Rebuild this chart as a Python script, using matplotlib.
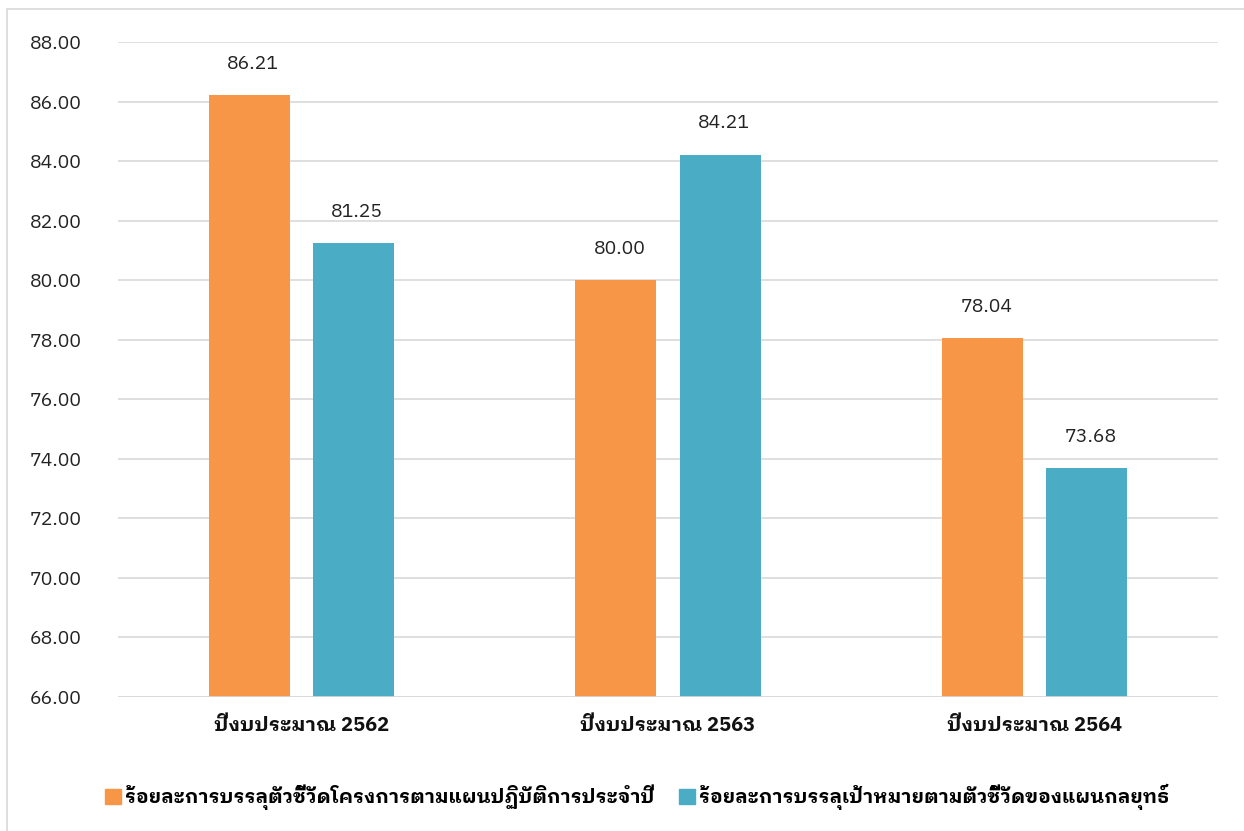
import matplotlib
matplotlib.use('Agg')
import matplotlib.pyplot as plt
import numpy as np
from matplotlib.patches import Rectangle, Patch

plt.rcParams['font.family'] = ['IBM Plex Sans Thai Looped', 'Noto Sans Thai Looped', 'DejaVu Sans']

# data
years = ['ปีงบประมาณ 2562', 'ปีงบประมาณ 2563', 'ปีงบประมาณ 2564']
project_pct = [86.21, 80.00, 78.04]
strategy_pct = [81.25, 84.21, 73.68]
series_names = ['ร้อยละการบรรลุตัวชี้วัดโครงการตามแผนปฏิบัติการประจำปี',
                'ร้อยละการบรรลุเป้าหมายตามตัวชี้วัดของแผนกลยุทธ์']
yticks = np.arange(66, 89, 2)

orange = '#F79646'
teal = '#4BACC6'

fig = plt.figure(figsize=(12.44, 8.31), dpi=100)
ax = fig.add_axes([0.0949, 0.1613, 0.8842, 0.7882])

# outer chart border
fig.patches.append(Rectangle((7 / 1244, -0.1), 1.2, (831 - 9) / 831 + 0.1,
                             transform=fig.transFigure, fill=False,
                             edgecolor='#D9D9D9', linewidth=1.2))

x = np.arange(len(years))
w = 0.221
off = 0.142
ax.bar(x - off, [v - 66 for v in project_pct], w, bottom=66, color=orange, zorder=3)
ax.bar(x + off, [v - 66 for v in strategy_pct], w, bottom=66, color=teal, zorder=3)

for xs, vals in ((x - off, project_pct), (x + off, strategy_pct)):
    for xi, v in zip(xs, vals):
        ax.text(xi + 0.01, v + 0.75, f'{v:.2f}', ha='center', va='bottom', fontsize=14, color='#222222')

ax.set_xlim(-0.5, 2.5)
ax.set_ylim(66, 88)
ax.set_yticks(yticks)
ax.set_yticklabels([f'{t:.2f}' for t in yticks], fontsize=14, color='#222222')
ax.set_xticks(x)
ax.set_xticklabels(years, fontsize=14.5, fontweight='bold', color='#111111')
ax.tick_params(axis='both', length=0)
ax.tick_params(axis='y', pad=26)
ax.tick_params(axis='x', pad=14)
ax.yaxis.grid(True, color='#D9D9D9', linewidth=1.2, zorder=0)
for s in ax.spines.values():
    s.set_visible(False)
ax.axhline(66, color='#D9D9D9', linewidth=1.2, zorder=4)

handles = [Patch(color=orange), Patch(color=teal)]
fig.legend(handles, series_names, loc='center', bbox_to_anchor=(0.512, 0.041),
           ncol=2, frameon=False, prop={'size': 14, 'weight': 'bold'},
           handlelength=0.8, handleheight=0.8, handletextpad=0.2, columnspacing=1.3)

fig.savefig('out.png', dpi=100)
